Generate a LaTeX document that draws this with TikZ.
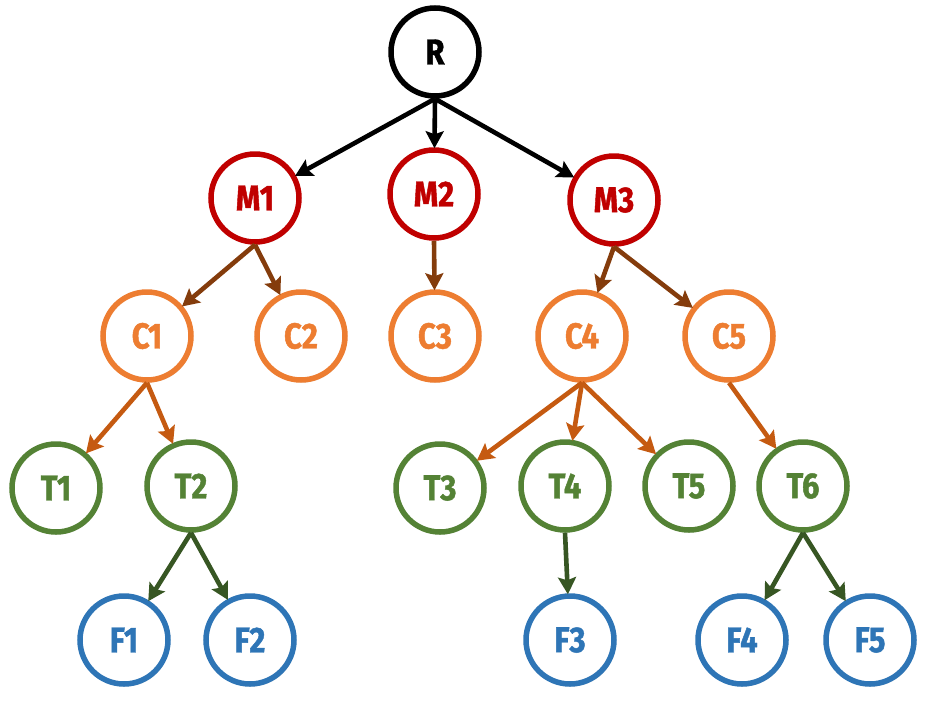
\documentclass[tikz,border=0pt]{standalone}
\usepackage{fontspec}
\setmainfont{Fira Sans}[FakeStretch=0.86, BoldFeatures={FakeBold=1.2}]
\usetikzlibrary{arrows.meta,shadows}
\definecolor{cR}{HTML}{000000}
\definecolor{cM}{HTML}{C00000}
\definecolor{cC}{HTML}{ED7D31}
\definecolor{cT}{HTML}{548235}
\definecolor{cF}{HTML}{2E75B6}
\definecolor{aM}{HTML}{843C0C}
\definecolor{aC}{HTML}{C55A11}
\definecolor{aT}{HTML}{375623}
\tikzset{
  nd/.style={circle, draw=#1, text=#1, line width=5.5pt, fill=white,
    minimum size=88pt, inner sep=0pt, font=\fontsize{36}{36}\selectfont\bfseries,
    drop shadow={opacity=0.22, shadow xshift=1.5pt, shadow yshift=-2.5pt}},
  arr/.style={draw=#1, line width=4.6pt, -{Stealth[length=17pt,width=18pt,inset=3pt]}, shorten >=-1pt}
}
\begin{document}
\begin{tikzpicture}[x=1pt,y=-1pt]
\useasboundingbox (0,0) rectangle (926,702);
\node[nd=cR] (R) at (435,52) {R};
\node[nd=cM] (M1) at (255,198) {M1};
\node[nd=cM] (M2) at (434,194) {M2};
\node[nd=cM] (M3) at (614,200) {M3};
\node[nd=cC] (C1) at (147,336) {C1};
\node[nd=cC] (C2) at (301,336) {C2};
\node[nd=cC] (C3) at (435,336) {C3};
\node[nd=cC] (C4) at (582,336) {C4};
\node[nd=cC] (C5) at (729,336) {C5};
\node[nd=cT] (T1) at (56,488) {T1};
\node[nd=cT] (T2) at (191,486) {T2};
\node[nd=cT] (T3) at (440,488) {T3};
\node[nd=cT] (T4) at (565,486) {T4};
\node[nd=cT] (T5) at (689,486) {T5};
\node[nd=cT] (T6) at (803,486) {T6};
\node[nd=cF] (F1) at (124,640) {F1};
\node[nd=cF] (F2) at (250,640) {F2};
\node[nd=cF] (F3) at (570,640) {F3};
\node[nd=cF] (F4) at (742,640) {F4};
\node[nd=cF] (F5) at (870,640) {F5};
\draw[arr=cR] (R.south) -- (M1);
\draw[arr=cR] (R.south) -- (M2);
\draw[arr=cR] (R.south) -- (M3);
\draw[arr=aM] (M1.south) -- (C1);
\draw[arr=aM] (M1.south) -- (C2);
\draw[arr=aM] (M2.south) -- (C3);
\draw[arr=aM] (M3.south) -- (C4);
\draw[arr=aM] (M3.south) -- (C5);
\draw[arr=aC] (C1.south) -- (T1);
\draw[arr=aC] (C1.south) -- (T2);
\draw[arr=aC] (C4.south) -- (T3);
\draw[arr=aC] (C4.south) -- (T4);
\draw[arr=aC] (C4.south) -- (T5);
\draw[arr=aC] (C5.south) -- (T6);
\draw[arr=aT] (T2.south) -- (F1);
\draw[arr=aT] (T2.south) -- (F2);
\draw[arr=aT] (T4.south) -- (F3);
\draw[arr=aT] (T6.south) -- (F4);
\draw[arr=aT] (T6.south) -- (F5);
\end{tikzpicture}
\end{document}
